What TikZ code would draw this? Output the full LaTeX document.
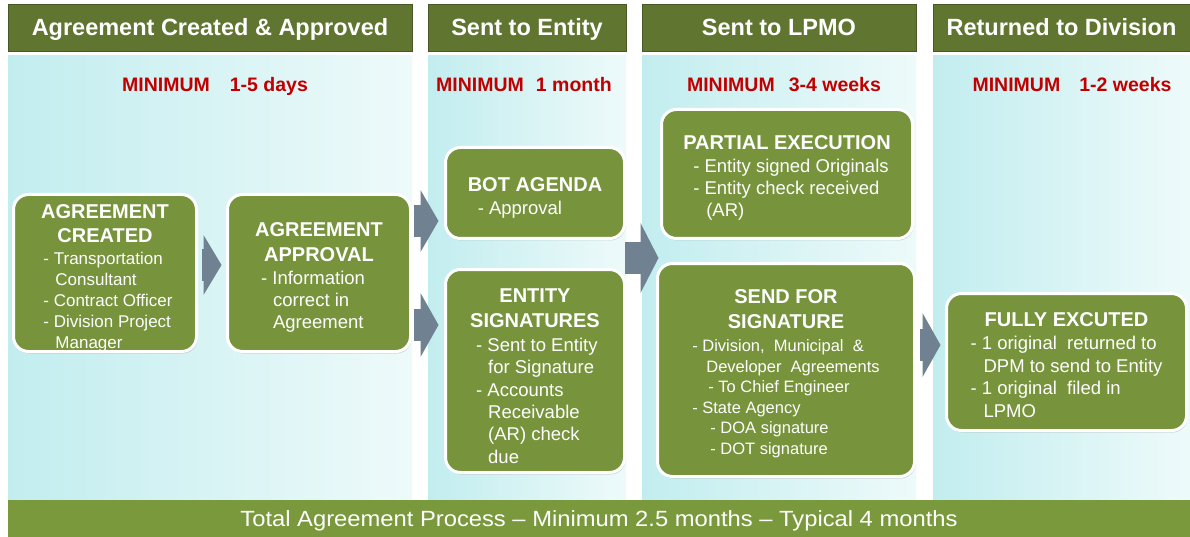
\documentclass[tikz,border=0pt]{standalone}
\usepackage{fontspec}
\setmainfont{Liberation Sans}
\newfontfamily\widefont[FakeStretch=1.08]{Liberation Sans}
\usetikzlibrary{arrows.meta,calc,shadows}

\definecolor{hdrgreen}{RGB}{95,117,48}
\definecolor{boxgreen}{RGB}{119,147,60}
\definecolor{bargreen}{RGB}{122,152,60}
\definecolor{panelcyan}{RGB}{194,237,239}
\definecolor{panelwhite}{RGB}{238,250,250}
\definecolor{arrgray}{RGB}{112,130,146}
\definecolor{minred}{RGB}{192,0,0}

\newcommand\ttl[1]{\multicolumn{1}{@{}c@{}}{\fontsize{20}{24}\selectfont\bfseries #1}}
\newcommand\boxlines[2][-5pt]{\raisebox{#1}[\height][\depth]{\begin{tabular}{@{}l@{}}#2\end{tabular}}}
\newcommand\bul{\hspace*{6pt}- }
\newcommand\cont{\hspace*{18pt}}

\tikzset{
  header/.style={fill=hdrgreen,draw=hdrgreen!75!black,line width=0.8pt,text=white,
    minimum height=47pt,inner sep=0pt,text height=18pt,text depth=2pt,
    font=\fontsize{23.5}{28}\selectfont\bfseries},
  panel/.style={left color=panelcyan,right color=panelwhite,minimum height=444pt,inner sep=0pt},
  minlabel/.style={text=minred,inner sep=0pt,text height=14pt,text depth=0pt,
    font=\fontsize{19.5}{23}\selectfont\bfseries},
  procbox/.style={rounded corners=15pt,fill=boxgreen,draw=white,line width=3pt,text=white,
    align=center,inner sep=0pt,font=\fontsize{18.5}{22}\selectfont,
    drop shadow={opacity=0.3,shadow xshift=1pt,shadow yshift=-2pt}},
  blockarr/.style={draw=arrgray,line width=32pt,
    -{Triangle[length=18pt,width=#1,line width=0pt]}},
}

\begin{document}
\begin{tikzpicture}[x=1pt,y=-1pt]
\useasboundingbox (0,0) rectangle (1190,537);
\fill[white] (0,0) rectangle (1190,537);

% columns
\node[panel,minimum width=404pt] (pCreated) at (210,278) {};
\node[panel,minimum width=198pt] (pEntity) at (527,278) {};
\node[panel,minimum width=274pt] (pLPMO) at (779,278) {};
\node[panel,minimum width=257pt] (pDivision) at (1061.5,278) {};

\node[header,minimum width=404pt] (hCreated) at (210,28) {Agreement Created \& Approved};
\node[header,minimum width=198pt] (hEntity) at (527,28) {Sent to Entity};
\node[header,minimum width=274pt] (hLPMO) at (779,28) {Sent to LPMO};
\node[header,minimum width=257pt] (hDivision) at (1061.5,28) {Returned to Division};

\node[minlabel] (mCreated) at (215,85) {MINIMUM\hspace{20pt}1-5 days};
\node[minlabel] (mEntity) at (524,85) {MINIMUM\hspace{12pt}1 month};
\node[minlabel] (mLPMO) at (784,85) {MINIMUM\hspace{14pt}3-4 weeks};
\node[minlabel] (mDivision) at (1072,85) {MINIMUM\hspace{19pt}1-2 weeks};

% boxes
\node[procbox,minimum width=183pt,minimum height=157pt,font=\fontsize{17}{21}\selectfont] (created) at (105,273)
  {\boxlines[-6pt]{
   \ttl{AGREEMENT}\\[3pt]
   \ttl{CREATED}\\[1pt]
   \bul Transportation\\
   \cont Consultant\\
   \bul Contract Officer\\
   \bul Division Project\\
   \cont Manager}};
\node[procbox,minimum width=183pt,minimum height=157pt] (approval) at (319,273)
  {\boxlines{
   \ttl{AGREEMENT}\\[3pt]
   \ttl{APPROVAL}\\[1pt]
   \bul Information\\
   \cont correct in\\
   \cont Agreement}};
\node[procbox,minimum width=179pt,minimum height=91pt] (bot) at (535,193)
  {\boxlines[-6pt]{
   \ttl{BOT AGENDA}\\[1pt]
   \hspace*{10pt}- Approval}};
\node[procbox,minimum width=179pt,minimum height=203pt,font=\fontsize{18.5}{22.4}\selectfont] (entsig) at (535,371)
  {\boxlines[-7.5pt]{
   \ttl{ENTITY}\\[3pt]
   \ttl{SIGNATURES}\\[1pt]
   \bul Sent to Entity\\
   \cont for Signature\\
   \bul Accounts\\
   \cont Receivable\\
   \cont (AR) check\\
   \cont due}};
\node[procbox,minimum width=251pt,minimum height=129pt] (partial) at (787,174)
  {\boxlines{
   \ttl{PARTIAL EXECUTION}\\[1pt]
   \hspace*{10pt}- Entity signed Originals\\
   \hspace*{10pt}- Entity check received\\
   \hspace*{23pt}(AR)}};
\node[procbox,minimum width=257pt,minimum height=213pt,font=\fontsize{16.5}{20.5}\selectfont] (sendsig) at (786,370)
  {\boxlines{
   \ttl{SEND FOR}\\[4pt]
   \ttl{SIGNATURE}\\[3pt]
   - Division,\ \ Municipal\ \ \&\\
   \hspace*{14pt}Developer\ \ Agreements\\
   \hspace*{16pt}- To Chief Engineer\\
   - State Agency\\
   \hspace*{18pt}- DOA signature\\
   \hspace*{18pt}- DOT signature}};
\node[procbox,minimum width=240pt,minimum height=137pt,font=\fontsize{18.5}{22.5}\selectfont] (fully) at (1066.5,362)
  {\boxlines{
   \ttl{FULLY EXCUTED}\\[1pt]
   - 1 original\ \ returned to\\
   \hspace*{13pt}DPM to send to Entity\\
   - 1 original\ \ filed in\\
   \hspace*{13pt}LPMO}};

% block arrows
\draw[blockarr=60pt] ($(created.east)+(3.5,-8)$) -- ($(approval.west)+(-4.5,-8)$);
\draw[blockarr=62pt] ($(approval.east |- 0,221)+(1.5,0)$) -- ($(bot.west |- 0,221)+(-5.5,0)$);
\draw[blockarr=64pt] ($(approval.east |- 0,325)+(1.5,0)$) -- ($(entsig.west |- 0,325)+(-5.5,0)$);
\draw[blockarr=70pt] ($(bot.east |- 0,258)+(-1.5,0)$) -- ($(sendsig.west |- 0,258)+(2.5,0)$);
\draw[blockarr=64pt] ($(sendsig.east |- 0,345)+(3.5,0)$) -- ($(fully.west |- 0,345)+(-4.5,0)$);

% total bar
\node[fill=bargreen,text=white,minimum width=1182pt,minimum height=37pt,inner sep=0pt,
  text height=16pt,text depth=0pt,font=\widefont\fontsize{22}{26}\selectfont] (total) at (599,518.5)
  {Total Agreement Process – Minimum 2.5 months – Typical 4 months};
\end{tikzpicture}
\end{document}
